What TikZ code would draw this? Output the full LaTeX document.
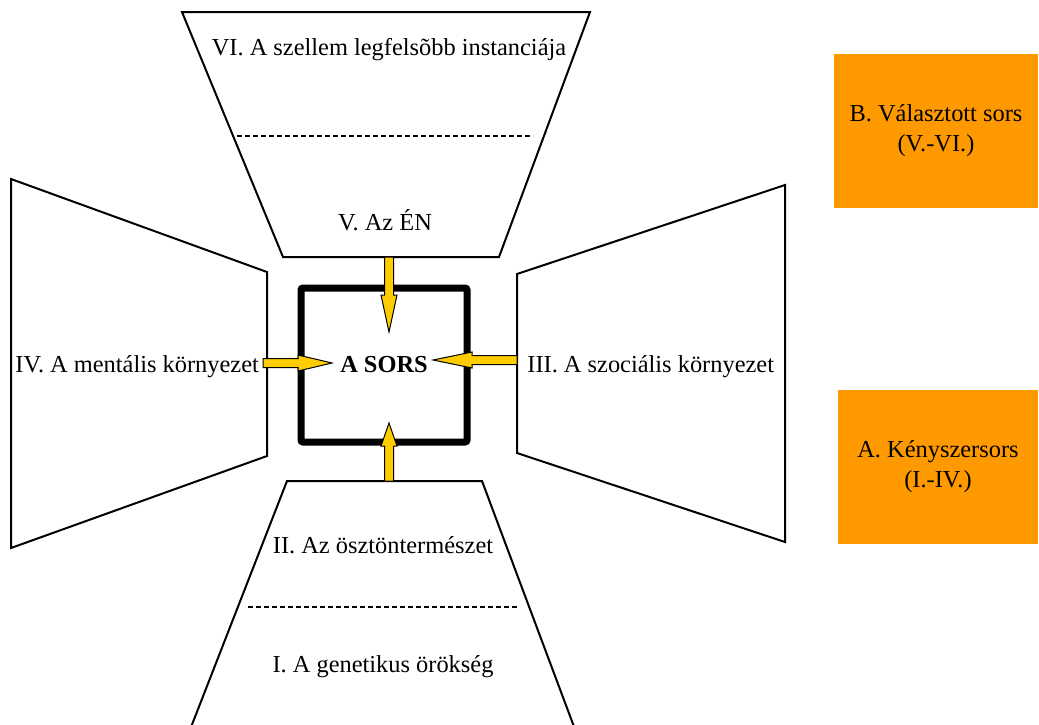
\documentclass[tikz,border=0pt]{standalone}
\usepackage{fontspec}
\setmainfont{Liberation Serif}
\usetikzlibrary{positioning,calc}
\definecolor{sorsgold}{HTML}{FFCC00}
\definecolor{sorsorange}{HTML}{FF9900}
\tikzset{
  layer/.style={draw=black, line width=1pt, line join=miter},
  divider/.style={draw=black, line width=0.7pt, dash pattern=on 2.6pt off 1.4pt},
  lbl/.style={font=\fontsize{12.2}{15}\selectfont, inner sep=0pt, anchor=base},
  sorsbox/.style={draw=black, line width=3.5pt, rounded corners=1pt, minimum width=83pt,
    minimum height=77pt, inner sep=0pt, font=\fontsize{12.2}{15}\selectfont\bfseries},
  fatebox/.style={fill=sorsorange, align=center, inner sep=0pt,
    font=\fontsize{12.2}{15}\selectfont},
  fatarrow/.style={draw=black, fill=sorsgold, line width=0.5pt, line join=miter},
}

\begin{document}
\begin{tikzpicture}[x=0.5pt, y=-0.5pt]
\useasboundingbox (0,0) rectangle (1039,724);

% the four layers round the centre
\draw[layer] (182,12) -- (590,12) -- (499,257) -- (283,257) -- cycle;
\draw[layer] (11,179) -- (267,272) -- (267,456) -- (11,548) -- cycle;
\draw[layer] (785,185) -- (517,274) -- (517,453) -- (785,542) -- cycle;
\draw[layer] (287,481) -- (482,481) -- (579,740) -- (186,740) -- cycle;
\draw[divider] (237,136) -- (533,136);
\draw[divider] (248,607) -- (518,607);

\node[lbl] (szellem) at (389,55) {VI. A szellem legfelsõbb instanciája};
\node[lbl] (en) at (385,230) {V. Az ÉN};
\node[lbl, anchor=base west] (mental) at (15,372) {IV. A mentális környezet};
\node[lbl, anchor=base west] (szocialis) at (527,372) {III. A szociális környezet};
\node[lbl] (oszton) at (383,553) {II. Az ösztöntermészet};
\node[lbl] (genetika) at (383,672) {I. A genetikus örökség};

\node[sorsbox] (sors) at (384,365) {A SORS};

\node[fatebox, minimum width=102pt, minimum height=77pt] (valasztott) at (936,131)
  {B. Választott sors\\(V.-VI.)};
\node[fatebox, minimum width=100pt, minimum height=77pt,
  below=90.5pt of valasztott.south east, anchor=north east] (kenyszer)
  {A. Kényszersors\\(I.-IV.)};

\coordinate (en-out) at (389,257);
\coordinate (en-tip) at (389,332);
\coordinate (mental-out) at (263,363);
\coordinate (mental-tip) at (332,363);
\coordinate (szoc-out) at (517,360);
\coordinate (szoc-tip) at (433,360);
\coordinate (oszton-out) at (389,481);
\coordinate (oszton-tip) at (389,423);

% block arrows pointing at the box
\foreach \src/\dst/\hlen in {en-out/en-tip/18.5pt, mental-out/mental-tip/17pt,
    szoc-out/szoc-tip/19.5pt, oszton-out/oszton-tip/11.5pt} {
  \coordinate (hb) at ($(\dst)!\hlen!(\src)$);
  \draw[fatarrow] ($(\src)!2.25pt!90:(\dst)$) -- ($(hb)!2.25pt!90:(\dst)$)
    -- ($(hb)!4pt!90:(\dst)$) -- (\dst) -- ($(hb)!4pt!-90:(\dst)$)
    -- ($(hb)!2.25pt!-90:(\dst)$) -- ($(\src)!2.25pt!-90:(\dst)$) -- cycle;
}
\end{tikzpicture}
\end{document}
